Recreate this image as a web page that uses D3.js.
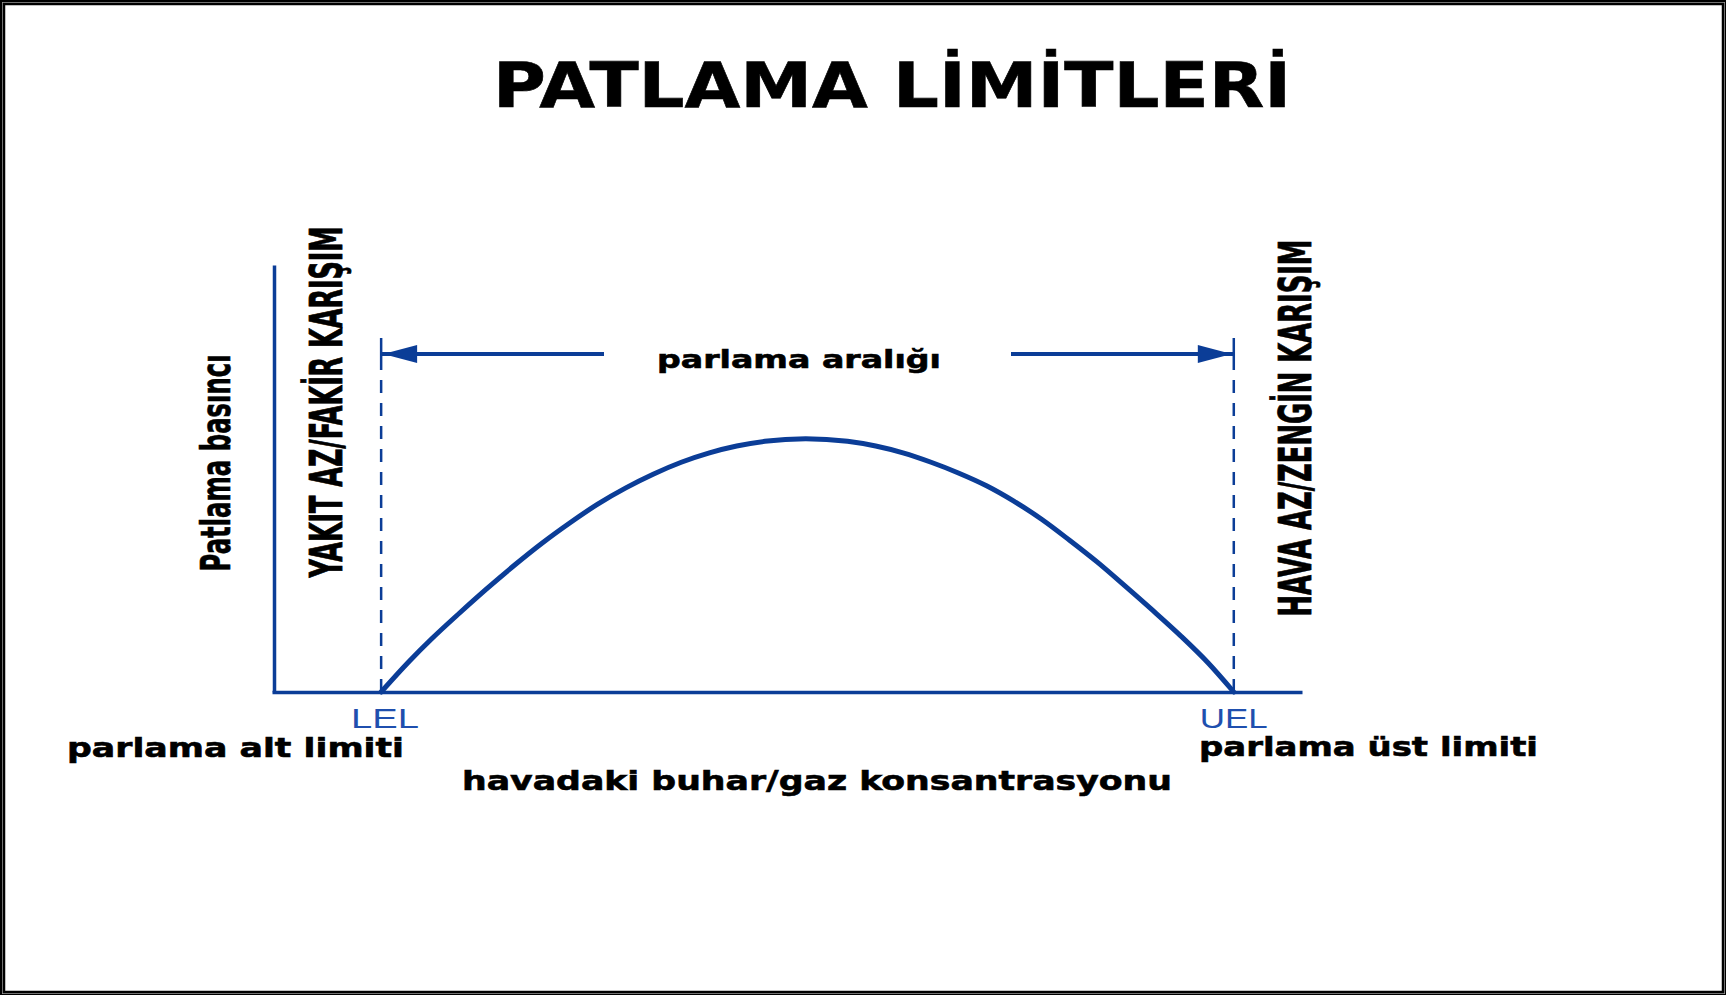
<!DOCTYPE html>
<head>
<meta charset="utf-8">
<script src="https://d3js.org/d3.v7.min.js"></script>
<style>
    body { margin: 0; background: #fff; }
    .axis path { stroke: #0b3d97; stroke-width: 3.5px; }
    .lbl { font-family: "DejaVu Sans", Verdana, sans-serif; font-weight: bold; fill: #000; stroke: #000; stroke-width: 0.6px; }
    .cond { font-family: "Liberation Sans Narrow", "DejaVu Sans Condensed", sans-serif; font-weight: bold; fill: #000; stroke: #000; stroke-width: 0.8px; }
    .lim { font-family: "Liberation Sans", Arial, sans-serif; fill: #1f4fae; }
</style>
</head>
<body>
<script>

// curve: concentration (LEL = 0, UEL = 100) vs explosion pressure (0-100)
var concentration = [0, 3.3, 5.9, 9.2, 12.4, 15.7, 18.9, 22.2, 25.4, 28.7, 31.9, 35.2, 38.5, 41.7, 45.0, 49.8,
                     54.7, 58.0, 61.2, 64.5, 67.7, 71.0, 74.2, 77.5, 80.7, 84.0, 87.2, 90.5, 93.8, 97.0, 100];
var pressure      = [0, 7.2, 12.4, 18.5, 24.2, 29.8, 34.9, 39.7, 44.0, 47.8, 51.0, 53.8, 56.0, 57.6, 58.7, 59.3,
                     58.7, 57.6, 56.0, 53.8, 51.3, 48.3, 44.7, 40.4, 35.6, 30.4, 24.9, 19.1, 13.1, 6.8, 0];

var limits = [0, 100];
var limitNames = ["LEL", "UEL"];
var limitLabels = ["parlama alt limiti", "parlama üst limiti"];

var title = "PATLAMA LİMİTLERİ";
var yLabel = "Patlama basıncı";
var xLabel = "havadaki buhar/gaz konsantrasyonu";
var rangeLabel = "parlama aralığı";
var leanLabel = "YAKIT AZ/FAKİR KARIŞIM";
var richLabel = "HAVA AZ/ZENGİN KARIŞIM";

var W = 1727, H = 996, blue = "#0b3d97";

var svg = d3.select("body").append("svg")
    .attr("width", W)
    .attr("height", H);

// double frame
svg.append("rect").attr("x", 1).attr("y", 1).attr("width", W - 3).attr("height", H - 3)
    .attr("fill", "none").attr("stroke", "#000").attr("stroke-width", 2);
svg.append("rect").attr("x", 2.5).attr("y", 2.5).attr("width", W - 5).attr("height", H - 5)
    .attr("fill", "none").attr("stroke", "#999").attr("stroke-width", 1);
svg.append("rect").attr("x", 4).attr("y", 4).attr("width", W - 8).attr("height", H - 8)
    .attr("fill", "none").attr("stroke", "#000").attr("stroke-width", 2.5);

var x = d3.scaleLinear().domain([-12.8, 108]).range([272, 1302]);
var y = d3.scaleLinear().domain([0, 100]).range([692, 265]);

svg.append("g").attr("class", "axis")
    .attr("transform", "translate(0," + y(0) + ")")
    .call(d3.axisBottom(x).tickValues([]).tickSizeOuter(0));

svg.append("g").attr("class", "axis")
    .attr("transform", "translate(" + (x(-12.8) + 2) + ",0)")
    .call(d3.axisLeft(y).tickValues([]).tickSizeOuter(0));

// limit lines: short solid tick on top, dashes below
var arrowY = 354;
limits.forEach(function(d) {
    svg.append("line")
        .attr("x1", x(d)).attr("x2", x(d)).attr("y1", 338).attr("y2", 370)
        .attr("stroke", blue).attr("stroke-width", 2.5);
    svg.append("line")
        .attr("x1", x(d)).attr("x2", x(d)).attr("y1", 380).attr("y2", y(0))
        .attr("stroke", blue).attr("stroke-width", 2.5)
        .attr("stroke-dasharray", "13,10");
});

// range arrows
svg.append("line").attr("x1", x(0)).attr("x2", 604).attr("y1", arrowY).attr("y2", arrowY)
    .attr("stroke", blue).attr("stroke-width", 4);
svg.append("line").attr("x1", 1011).attr("x2", x(100)).attr("y1", arrowY).attr("y2", arrowY)
    .attr("stroke", blue).attr("stroke-width", 4);

var head = d3.line();
svg.append("path")
    .attr("d", head([[x(0) + 2, arrowY], [x(0) + 36, arrowY - 9], [x(0) + 36, arrowY + 9]]) + "Z")
    .attr("fill", blue);
svg.append("path")
    .attr("d", head([[x(100) - 2, arrowY], [x(100) - 36, arrowY - 9], [x(100) - 36, arrowY + 9]]) + "Z")
    .attr("fill", blue);

// pressure curve
var pts = concentration.map(function(c, i) { return [c, pressure[i]]; });
svg.append("path")
    .datum(pts)
    .attr("fill", "none")
    .attr("stroke", blue)
    .attr("stroke-width", 5)
    .attr("stroke-linecap", "round")
    .attr("d", d3.line()
        .x(function(d) { return x(d[0]); })
        .y(function(d) { return y(d[1]); })
        .curve(d3.curveMonotoneX));

// texts
svg.append("text").attr("class", "lbl")
    .attr("x", 892).attr("y", 107)
    .attr("text-anchor", "middle")
    .attr("font-size", 62)
    .attr("textLength", 798).attr("lengthAdjust", "spacingAndGlyphs")
    .text(title);

svg.append("text").attr("class", "lbl")
    .attr("transform", "translate(230,463) rotate(-90)")
    .attr("text-anchor", "middle")
    .attr("font-size", 40)
    .attr("textLength", 217).attr("lengthAdjust", "spacingAndGlyphs")
    .text(yLabel);

svg.append("text").attr("class", "cond")
    .attr("transform", "translate(342,402) rotate(-90)")
    .attr("text-anchor", "middle")
    .attr("font-size", 44)
    .attr("textLength", 351).attr("lengthAdjust", "spacingAndGlyphs")
    .text(leanLabel);

svg.append("text").attr("class", "cond")
    .attr("transform", "translate(1311,428) rotate(-90)")
    .attr("text-anchor", "middle")
    .attr("font-size", 44)
    .attr("textLength", 377).attr("lengthAdjust", "spacingAndGlyphs")
    .text(richLabel);

svg.append("text").attr("class", "lbl")
    .attr("x", 799).attr("y", 368)
    .attr("text-anchor", "middle")
    .attr("font-size", 25)
    .attr("textLength", 284).attr("lengthAdjust", "spacingAndGlyphs")
    .text(rangeLabel);

svg.selectAll(".lim").data(limits).enter().append("text").attr("class", "lim")
    .attr("x", function(d) { return x(d) + (d === 0 ? 4 : 0); })
    .attr("y", 728)
    .attr("text-anchor", "middle")
    .attr("font-size", 28)
    .attr("textLength", 68).attr("lengthAdjust", "spacingAndGlyphs")
    .text(function(d, i) { return limitNames[i]; });

var labelX = [67, 1199], labelW = [337, 339], labelY = [757, 756];
limitLabels.forEach(function(t, i) {
    svg.append("text").attr("class", "lbl")
        .attr("x", labelX[i]).attr("y", labelY[i])
        .attr("font-size", 27)
        .attr("textLength", labelW[i]).attr("lengthAdjust", "spacingAndGlyphs")
        .text(t);
});

svg.append("text").attr("class", "lbl")
    .attr("x", 462).attr("y", 790)
    .attr("font-size", 27)
    .attr("textLength", 710).attr("lengthAdjust", "spacingAndGlyphs")
    .text(xLabel);

</script>
</body>
